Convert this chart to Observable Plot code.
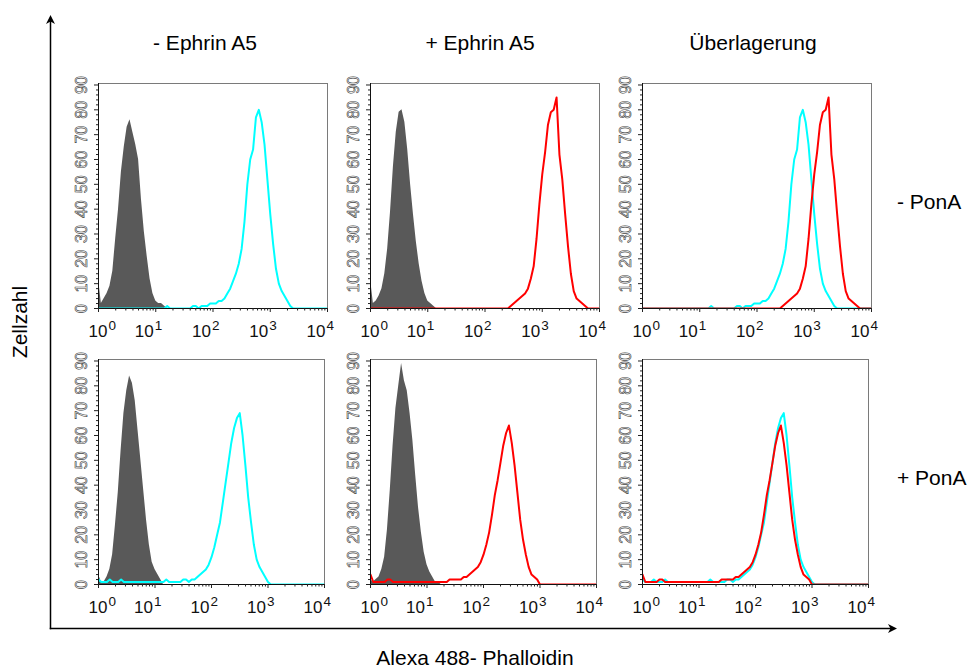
<!DOCTYPE html>
<html>
<head>
<meta charset="utf-8">
<script src="https://cdn.jsdelivr.net/npm/d3@7"></script>
<script src="https://cdn.jsdelivr.net/npm/@observablehq/plot@0.6"></script>
<style>
  html, body { margin: 0; padding: 0; background: #fff; }
  #figure { position: relative; width: 967px; height: 669px; overflow: hidden; }
  #figure .panel { position: absolute; }
</style>
</head>
<body>
<div id="figure"></div>
<script>
// ---- Texts ----
const columnTitles = ["- Ephrin A5", "+ Ephrin A5", "Überlagerung"];
const rowTitles = ["- PonA", "+ PonA"];
const xAxisTitle = "Alexa 488- Phalloidin";
const yAxisTitle = "Zellzahl";

// ---- Axis ticks ----
const yMajorTicks = [0, 10, 20, 30, 40, 50, 60, 70, 80, 90];
const xTickValues = [1, 10, 100, 1000, 10000];
const xTickExponents = ["0", "1", "2", "3", "4"];

// ---- Histogram counts, bins of 0.05 decades starting at the given decade ----
// unstained controls (grey, filled)
const ctrlNoPonAStart = 0;
const ctrlNoPonA = [12, 2, 4, 6, 9, 15, 28, 40, 55, 65, 73, 76, 71, 66, 60, 44, 31, 21, 12, 6, 3, 2, 2, 1, 0];
const ctrlNoPonBStart = 0;
const ctrlNoPonB = [12, 2, 3, 5, 8, 14, 24, 39, 57, 71, 79, 80, 75, 64, 50, 38, 27, 18, 11, 6, 3, 2, 1, 0];
const ctrlPonAStart = 0;
const ctrlPonA = [4, 1, 1, 3, 6, 12, 24, 37, 54, 69, 78, 84, 81, 74, 62, 50, 38, 26, 16, 9, 6, 4, 2, 0];
const ctrlPonBStart = 0;
const ctrlPonB = [2, 1, 2, 3, 6, 11, 22, 38, 56, 71, 80, 89, 82, 78, 69, 58, 44, 31, 21, 13, 8, 5, 3, 1, 1, 0];

// Phalloidin staining without Ephrin A5 (cyan), without / with PonA
const cyanNoPonStart = 1.15;
const cyanNoPon = [0, 1, 0, 0, 0, 0, 0, 0, 0, 0, 1, 1, 0, 1, 1, 1, 2, 2, 2, 3, 3, 4, 6, 8, 11, 14, 18, 24,
  35, 50, 60, 64, 77, 80, 75, 66, 52, 38, 26, 16, 10, 7, 5, 3, 1, 0];
const cyanPonStart = 0;
const cyanPon = [2, 1, 1, 1, 2, 1, 1, 1, 2, 1, 1, 1, 1, 1, 1, 1, 1, 1, 1, 1, 1, 1, 1, 1, 2, 1, 1, 1, 1, 1,
  2, 2, 1, 2, 2, 3, 4, 5, 6, 8, 11, 15, 20, 25, 33, 41, 49, 57, 63, 67, 69, 60, 48, 35, 25, 16, 10, 7, 5, 3, 1, 0];

// Phalloidin staining with Ephrin A5 (red), without / with PonA
const redNoPonStart = 2.4;
const redNoPon = [0, 1, 2, 3, 4, 5, 6, 8, 12, 17, 28, 42, 54, 63, 74, 79, 80, 85, 62, 52, 38, 25, 14, 7, 4, 3, 2, 1, 0];
const redPonStart = 0;
const redPon = [4, 1, 1, 1, 1, 1, 2, 2, 1, 1, 1, 1, 1, 1, 1, 1, 1, 1, 1, 1, 1, 1, 1, 1, 1, 1, 1, 1,
  2, 2, 2, 2, 2, 3, 3, 4, 5, 6, 7, 9, 12, 16, 21, 28, 36, 42, 49, 56, 61, 64, 57, 48, 37, 26, 18, 12, 7, 4, 3, 2, 0];

// ---- Styling ----
const FONT = '"Liberation Sans", Arial, Helvetica, sans-serif';
const GREY = "#595959", CYAN = "#00ffff", RED = "#ff0000";

// channel grid: 4 decades, 20 bins per decade
const BINS_PER_DECADE = 20, DECADES = 4;
function histogram(start, counts) {
  const offset = Math.round(start * BINS_PER_DECADE);
  return d3.range(DECADES * BINS_PER_DECADE + 1).map(i => ({
    x: 10 ** (i / BINS_PER_DECADE),
    y: counts[i - offset] ?? 0
  }));
}

const series = {
  ctrlNoPonA: histogram(ctrlNoPonAStart, ctrlNoPonA),
  ctrlNoPonB: histogram(ctrlNoPonBStart, ctrlNoPonB),
  ctrlPonA: histogram(ctrlPonAStart, ctrlPonA),
  ctrlPonB: histogram(ctrlPonBStart, ctrlPonB),
  cyanNoPon: histogram(cyanNoPonStart, cyanNoPon),
  cyanPon: histogram(cyanPonStart, cyanPon),
  redNoPon: histogram(redNoPonStart, redNoPon),
  redPon: histogram(redPonStart, redPon)
};

const panels = [
  {row: 0, col: 0, fill: "ctrlNoPonA", lines: [["cyanNoPon", CYAN]]},
  {row: 0, col: 1, fill: "ctrlNoPonB", lines: [["redNoPon", RED]]},
  {row: 0, col: 2, fill: null, lines: [["cyanNoPon", CYAN], ["redNoPon", RED]]},
  {row: 1, col: 0, fill: "ctrlPonA", lines: [["cyanPon", CYAN]]},
  {row: 1, col: 1, fill: "ctrlPonB", lines: [["redPon", RED]]},
  {row: 1, col: 2, fill: null, lines: [["cyanPon", CYAN], ["redPon", RED]]}
];

// panel layout (pixels)
const frameLeft = [98, 370, 642];
const frameTop = [83, 359];
const frameWidth = [229, 226];
const frameHeight = 225;
const M = {left: 46, right: 14, top: 10, bottom: 38};

const yMinorTicks = d3.range(0, 91, 2).filter(v => v % 10 !== 0);
const xMinorTicks = d3.range(DECADES).flatMap(k => d3.range(2, 10).map(m => m * 10 ** k));

const figure = d3.select("#figure");

// outer axes with arrows and titles
const overlay = figure.append("svg")
  .attr("width", 967).attr("height", 669)
  .style("position", "absolute").style("left", 0).style("top", 0)
  .style("font-family", FONT);

const ax = 50.5, ay = 628.5, topTip = 15, rightTip = 897;
overlay.append("path").attr("d", `M${ax},${ay + 0.75}V${topTip + 5}`)
  .attr("stroke", "#000").attr("stroke-width", 1.5).attr("fill", "none");
overlay.append("path").attr("d", `M${ax - 0.75},${ay}H${rightTip - 5}`)
  .attr("stroke", "#000").attr("stroke-width", 1.5).attr("fill", "none");
overlay.append("path")
  .attr("d", `M${ax},${topTip}L${ax - 4.5},${topTip + 9}L${ax},${topTip + 6.5}L${ax + 4.5},${topTip + 9}Z`)
  .attr("fill", "#000");
overlay.append("path")
  .attr("d", `M${rightTip},${ay}L${rightTip - 9},${ay - 4.5}L${rightTip - 6.5},${ay}L${rightTip - 9},${ay + 4.5}Z`)
  .attr("fill", "#000");

const titleSize = 21;
const columnCenters = [205, 480, 753];
columnTitles.forEach((t, i) => {
  overlay.append("text").attr("x", columnCenters[i]).attr("y", 49.5)
    .attr("text-anchor", "middle").attr("font-size", titleSize).text(t);
});
const rowBaselines = [209, 485];
rowTitles.forEach((t, i) => {
  overlay.append("text").attr("x", 897).attr("y", rowBaselines[i])
    .attr("font-size", titleSize).text(t);
});
overlay.append("text").attr("x", 475).attr("y", 665)
  .attr("text-anchor", "middle").attr("font-size", titleSize).text(xAxisTitle);
overlay.append("text")
  .attr("transform", "translate(27,322) rotate(-90)")
  .attr("text-anchor", "middle").attr("font-size", titleSize).text(yAxisTitle);

// histogram panels
for (const p of panels) {
  const W = frameWidth[p.row], H = frameHeight;
  const marks = [];
  if (p.fill) {
    marks.push(Plot.areaY(series[p.fill], {x: "x", y: "y", fill: GREY, clip: true}));
  }
  for (const [key, color] of p.lines) {
    marks.push(Plot.lineY(series[key], {x: "x", y: "y", stroke: color, strokeWidth: 2, clip: true}));
  }
  marks.push(
    Plot.frame({stroke: "#7a7a7a"}),
    Plot.ruleX([1], {stroke: "#111"}),
    Plot.ruleY([0], {stroke: "#111"}),
    Plot.axisY(yMinorTicks, {tickSize: 2, tickFormat: () => "", label: null, stroke: "#222"}),
    Plot.axisY(yMajorTicks, {tickSize: 4, tickFormat: () => "", label: null, stroke: "#222"}),
    Plot.axisX(xMinorTicks, {tickSize: 2.5, tickFormat: () => "", label: null, stroke: "#222"}),
    Plot.axisX(xTickValues, {tickSize: 4, tickFormat: () => "", label: null, stroke: "#222"}),
    // rotated, outlined count labels
    Plot.text(yMajorTicks, {
      y: d => d, text: d => `${d}`, frameAnchor: "left", dx: -17, rotate: -90,
      textAnchor: "middle", lineAnchor: "middle", fontSize: 16,
      fill: "#fff", stroke: "#444", strokeWidth: 0.6, paintOrder: "fill"
    }),
    // decade labels: "10" with a raised exponent
    Plot.text(xTickValues, {
      x: d => d, text: () => "10", filter: (d, i) => i > 0, frameAnchor: "bottom",
      dy: 28, dx: -2, textAnchor: "end", lineAnchor: "bottom", fontSize: 17, fill: "#111"
    }),
    Plot.text(xTickValues, {
      x: d => d, text: (d, i) => xTickExponents[i], filter: (d, i) => i > 0, frameAnchor: "bottom",
      dy: 21, dx: -1, textAnchor: "start", lineAnchor: "bottom", fontSize: 13.5, fill: "#111"
    }),
    Plot.text(xTickValues, {
      x: d => d, text: () => "10", filter: (d, i) => i === 0, frameAnchor: "bottom",
      dy: 28, dx: 9, textAnchor: "end", lineAnchor: "bottom", fontSize: 17, fill: "#111"
    }),
    Plot.text(xTickValues, {
      x: d => d, text: (d, i) => xTickExponents[i], filter: (d, i) => i === 0, frameAnchor: "bottom",
      dy: 21, dx: 10, textAnchor: "start", lineAnchor: "bottom", fontSize: 13.5, fill: "#111"
    })
  );

  const chart = Plot.plot({
    width: W + M.left + M.right,
    height: H + M.top + M.bottom,
    marginLeft: M.left, marginRight: M.right, marginTop: M.top, marginBottom: M.bottom,
    x: {type: "log", domain: [1, 1e4]},
    y: {domain: [0, 90.6]},
    style: {background: "none", fontFamily: FONT, overflow: "visible", color: "#111"},
    marks
  });

  figure.append("div").attr("class", "panel")
    .style("left", `${frameLeft[p.col] - M.left}px`)
    .style("top", `${frameTop[p.row] - M.top}px`)
    .node().appendChild(chart);
}
</script>
</body>
</html>
